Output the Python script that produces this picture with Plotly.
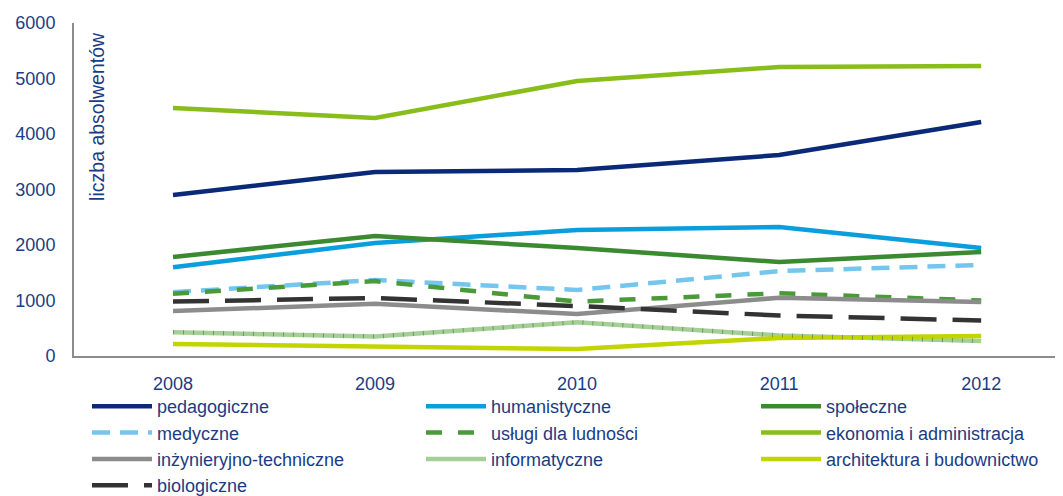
import plotly.graph_objects as go

years = ['2008', '2009', '2010', '2011', '2012']

pedagogiczne = [2900, 3315, 3350, 3620, 4215]
humanistyczne = [1600, 2035, 2270, 2325, 1945]
spoleczne = [1785, 2160, 1945, 1695, 1875]
medyczne = [1150, 1370, 1190, 1530, 1640]
uslugi = [1120, 1350, 980, 1130, 1000]
ekonomia = [4470, 4290, 4955, 5207, 5225]
inzynieryjne = [810, 940, 755, 1050, 975]
informatyczne = [430, 350, 610, 370, 270]
architektura = [215, 170, 125, 325, 360]
biologiczne = [980, 1045, 900, 730, 640]

TXT = '#1B3C84'

# name, values, colour, dash, legend column
series = [
    ('pedagogiczne', pedagogiczne, '#0A2A78', 'solid', 'legend'),
    ('humanistyczne', humanistyczne, '#0A9EDC', 'solid', 'legend2'),
    ('społeczne', spoleczne, '#3B8A31', 'solid', 'legend3'),
    ('medyczne', medyczne, '#74C6EC', '18px,10px', 'legend'),
    ('usługi dla ludności', uslugi, '#4A9A3A', '16px,16px', 'legend2'),
    ('ekonomia i administracja', ekonomia, '#88BD1A', 'solid', 'legend3'),
    ('inżynieryjno-techniczne', inzynieryjne, '#8C8C8C', 'solid', 'legend'),
    ('informatyczne', informatyczne, '#A6CF98', 'solid', 'legend2'),
    ('architektura i budownictwo', architektura, '#C3D500', 'solid', 'legend3'),
    ('biologiczne', biologiczne, '#333333', '36px,16px', 'legend'),
]

fig = go.Figure()
for name, vals, col, dash, leg in series:
    fig.add_trace(go.Scatter(x=years, y=vals, name=name, mode='lines', legend=leg,
                             line=dict(color=col, width=4.5, dash=dash)))

# hatch ticks on the informatyczne line
fig.add_trace(go.Scatter(x=years, y=informatyczne, mode='lines', showlegend=False,
                         hoverinfo='skip',
                         line=dict(color='rgba(60,130,50,0.6)', width=4.5, dash='1px,9px')))


def legend_col(x):
    return dict(orientation='v', xref='container', yref='container',
                x=x, y=0.234, xanchor='left', yanchor='top',
                itemwidth=60, traceorder='normal', tracegroupgap=0,
                font=dict(size=18, color=TXT), bgcolor='rgba(0,0,0,0)')


# page body adds ~8px offset, margins compensate
fig.update_layout(
    width=1063, height=496,
    paper_bgcolor='white', plot_bgcolor='white',
    margin=dict(l=66, r=9, t=15, b=148, autoexpand=False),
    font=dict(family='Liberation Sans, Arial', color=TXT),
    showlegend=True,
    legend=legend_col(0.0743),
    legend2=legend_col(0.3885),
    legend3=legend_col(0.7037),
    xaxis=dict(range=[-0.49, 4.40], showgrid=False, zeroline=False,
               showline=True, linewidth=2, linecolor='#8C8C8C',
               ticks='', tickfont=dict(size=18, color=TXT), ticklabelstandoff=10),
    yaxis=dict(range=[0, 6000], tickvals=[0, 1000, 2000, 3000, 4000, 5000, 6000],
               showgrid=False, zeroline=False,
               showline=True, linewidth=2, linecolor='#8C8C8C',
               ticks='', tickfont=dict(size=18, color=TXT), ticklabelstandoff=13),
    annotations=[dict(text='liczba absolwentów', textangle=-90, showarrow=False,
                      xref='paper', yref='paper', x=0.023, y=0.98,
                      xanchor='center', yanchor='top',
                      font=dict(size=19.5, color=TXT))],
)

fig.write_html('out.html')
